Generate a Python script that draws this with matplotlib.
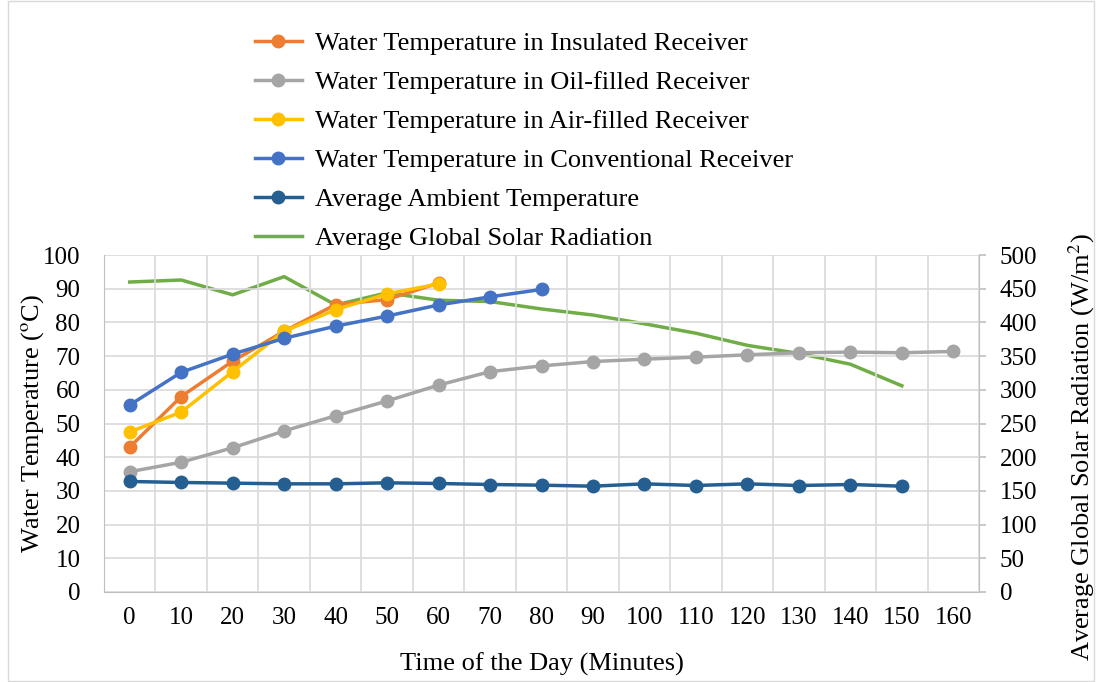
import matplotlib

matplotlib.use("Agg")
import matplotlib.pyplot as plt
import numpy as np

plt.rcParams["font.family"] = ["Liberation Serif", "DejaVu Serif"]
plt.rcParams["mathtext.fontset"] = "stix"

minutes = [0, 10, 20, 30, 40, 50, 60, 70, 80, 90, 100, 110, 120, 130, 140, 150, 160]

insulated = [43.0, 58.0, 68.5, 77.4, 85.3, 86.8, 91.7]
oil_filled = [35.7, 38.5, 42.8, 47.8, 52.3, 56.7, 61.4, 65.4, 67.1, 68.4, 69.1,
              69.7, 70.4, 71.0, 71.2, 71.0, 71.4]
air_filled = [47.5, 53.4, 65.4, 77.4, 83.8, 88.5, 91.4]
conventional = [55.5, 65.2, 70.6, 75.3, 78.9, 81.9, 85.2, 87.6, 89.8]
ambient = [32.8, 32.5, 32.3, 32.1, 32.1, 32.4, 32.2, 31.9, 31.7, 31.4, 32.1,
           31.6, 32.1, 31.6, 31.9, 31.4]
solar = [460, 463, 441, 468, 426, 444, 433, 431, 420, 411, 398, 384, 366, 354,
         338, 306]

series = [
    ("Water Temperature in Insulated Receiver", insulated, "#ED7D31"),
    ("Water Temperature in Oil-filled Receiver", oil_filled, "#A5A5A5"),
    ("Water Temperature in Air-filled Receiver", air_filled, "#FFC000"),
    ("Water Temperature in Conventional Receiver", conventional, "#4472C4"),
    ("Average Ambient Temperature", ambient, "#255E91"),
]

fig = plt.figure(figsize=(10.97, 6.82), dpi=100)
ax = fig.add_axes([0.0948, 0.132, 0.7977, 0.494])
ax2 = ax.twinx()

x = np.arange(len(minutes))
handles = []
for label, vals, col in series:
    h, = ax.plot(x[:len(vals)], vals, color=col, lw=2.5, marker="o", ms=9,
                 label=label, zorder=3)
    handles.append(h)
h, = ax2.plot(x[:len(solar)], solar, color="#70AD47", lw=2.5,
              label="Average Global Solar Radiation")
handles.append(h)

# temperature axes drawn over the solar radiation line
ax.set_zorder(ax2.get_zorder() + 1)
ax.patch.set_visible(False)

ax.set_xlim(-0.5, len(minutes) - 0.5)
ax.set_ylim(0, 100)
ax2.set_ylim(0, 500)
ax.set_yticks(np.arange(0, 101, 10))
ax2.set_yticks(np.arange(0, 501, 50))
ax.set_xticks(x)
ax.set_xticklabels([str(m) for m in minutes])
ax.set_xticks(np.arange(-0.5, len(minutes), 1), minor=True)

ax.grid(which="major", axis="y", color="#d9d9d9", lw=1.2)
ax.grid(which="minor", axis="x", color="#d9d9d9", lw=1.2)
ax.set_axisbelow(True)
ax.tick_params(axis="x", which="major", length=0, labelsize=18, pad=11)
ax.tick_params(axis="x", which="minor", length=0)
ax.tick_params(axis="y", length=0, labelsize=18, pad=17)
ax2.tick_params(axis="y", length=5, color="#bfbfbf", width=1.2, labelsize=18, pad=10)

for a in (ax, ax2):
    for s in a.spines.values():
        s.set_visible(False)
ax.spines["left"].set_visible(True)
ax.spines["left"].set_color("#bfbfbf")
ax.spines["bottom"].set_visible(True)
ax.spines["bottom"].set_color("#bfbfbf")
ax2.spines["right"].set_visible(True)
ax2.spines["right"].set_color("#bfbfbf")

ax.set_xlabel("Time of the Day (Minutes)", fontsize=19, labelpad=17)
ax.set_ylabel("Water Temperature ($^{\\rm o}$C)", fontsize=19, labelpad=-2)
ax2.set_ylabel("Average Global Solar Radiation (W/m$^{2}$)", fontsize=19)
ax2.yaxis.set_label_coords(1.0994, 0.43)

fig.legend(handles=handles, loc="upper left", bbox_to_anchor=(0.2276, 0.961),
           frameon=False, fontsize=19, handlelength=1.78, handletextpad=0.49,
           labelspacing=0.585, borderpad=0.2, borderaxespad=0)

fig.patches.append(plt.Rectangle((0.007, 0.002), 0.99, 0.996, transform=fig.transFigure,
                                 fill=False, edgecolor="#d9d9d9", lw=1))

fig.savefig("out.png", dpi=100)
